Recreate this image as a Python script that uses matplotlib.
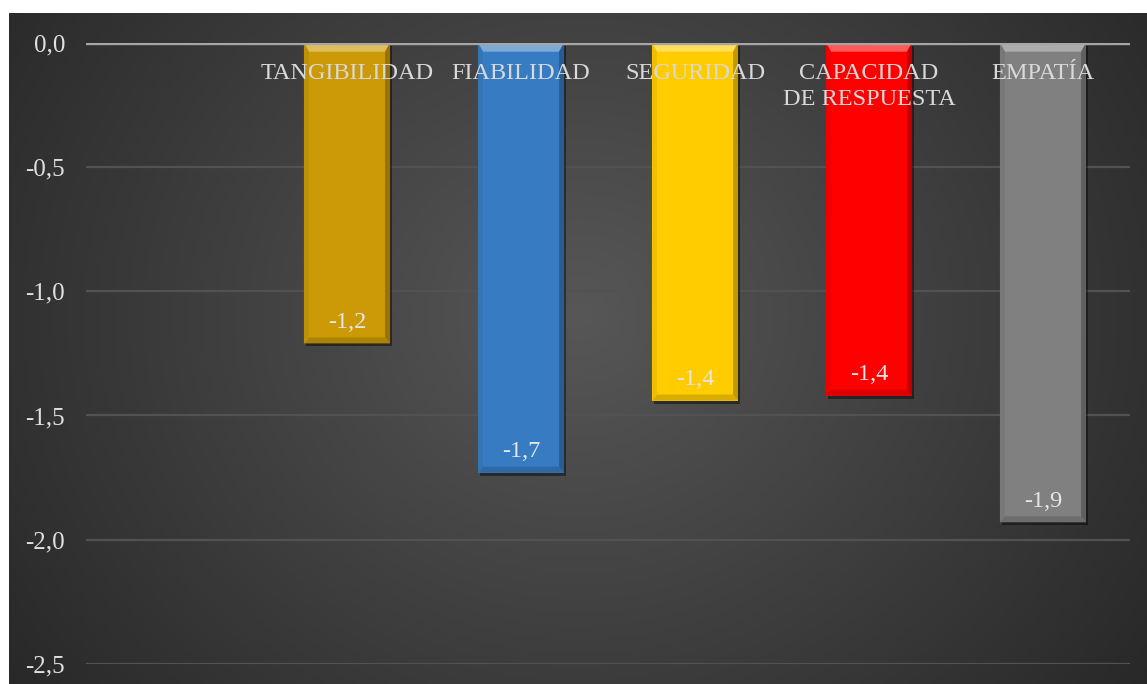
import numpy as np
import matplotlib.pyplot as plt
from matplotlib.patches import Polygon, Rectangle
from matplotlib.colors import to_rgb

plt.rcParams['font.family'] = ['Liberation Serif', 'DejaVu Serif']

# Dimensiones SERVQUAL: brecha (percepción - expectativa)
categorias = ['TANGIBILIDAD', 'FIABILIDAD', 'SEGURIDAD', 'CAPACIDAD\nDE RESPUESTA', 'EMPATÍA']
brechas = [-1.21, -1.73, -1.44, -1.42, -1.93]
colores = ['#CC9A06', '#377CC2', '#FFCC00', '#FF0000', '#808080']
yticks = [0.0, -0.5, -1.0, -1.5, -2.0, -2.5]

W, H, DPI = 1147, 684, 100
fig = plt.figure(figsize=(W / DPI, H / DPI), dpi=DPI, facecolor='white')

# fondo oscuro con degradado radial
bg = fig.add_axes([9 / W, 0, 1 - 9 / W, 1 - 13 / H])
bg.set_axis_off()
gx, gy = np.meshgrid(np.linspace(0, 1, 400), np.linspace(0, 1, 300))
r = np.sqrt(((gx - 0.5) / 0.62) ** 2 + ((gy - 0.45) / 0.95) ** 2)
r = np.clip(r, 0, 1)
c0, c1 = np.array(to_rgb('#575757')), np.array(to_rgb('#282828'))
img = c0[None, None, :] * (1 - r[..., None]) + c1[None, None, :] * r[..., None]
bg.imshow(img, extent=(0, 1, 0, 1), aspect='auto', origin='upper', interpolation='bilinear')
bg.set_xlim(0, 1)
bg.set_ylim(0, 1)

ax = fig.add_axes([86 / W, 1 - 664 / H, 1044 / W, 621.3 / H])
ax.patch.set_alpha(0)
for s in ax.spines.values():
    s.set_visible(False)

x = np.arange(1, len(categorias) + 1)
ancho = 0.495
ax.set_xlim(-0.5, 5.5)
ax.set_ylim(-2.5, 0)

for yv in yticks[1:]:
    ax.axhline(yv, color='#525252', lw=1.6, zorder=0)
ax.axhline(0, color='#a6a6a6', lw=2.4, zorder=5)

px = 6 / 1044   # un píxel en unidades x
py = 2.5 / 621.3  # un píxel en unidades y


def mezcla(c, otro, f):
    c = np.array(to_rgb(c))
    return tuple(c * (1 - f) + np.array(otro) * f)


bars = ax.bar(x, brechas, width=ancho, color=colores, zorder=2)
for b, c in zip(bars, colores):
    x0, x1 = b.get_x(), b.get_x() + b.get_width()
    top, bot = 0.0, b.get_height()
    s, t, tb = 5 * px, 9 * py, 6 * py
    # sombra
    ax.add_patch(Rectangle((x0 + 2 * px, bot - 3 * py), x1 - x0, -bot, color='black',
                           alpha=0.45, zorder=1, lw=0))
    ax.add_patch(Polygon([(x0, top), (x1, top), (x1 - s, top - t), (x0 + s, top - t)],
                         closed=True, color=mezcla(c, (1, 1, 1), 0.35), lw=0, zorder=3))
    ax.add_patch(Polygon([(x0, bot), (x1, bot), (x1 - s, bot + tb), (x0 + s, bot + tb)],
                         closed=True, color=mezcla(c, (0, 0, 0), 0.15), lw=0, zorder=3))
    ax.add_patch(Polygon([(x0, top), (x0 + s, top - t), (x0 + s, bot + tb), (x0, bot)],
                         closed=True, color=mezcla(c, (0, 0, 0), 0.06), lw=0, zorder=3))
    ax.add_patch(Polygon([(x1, top), (x1 - s, top - t), (x1 - s, bot + tb), (x1, bot)],
                         closed=True, color=mezcla(c, (0, 0, 0), 0.25), lw=0, zorder=3))
    ax.annotate(f'{bot:.1f}'.replace('.', ','), (b.get_x() + b.get_width() / 2, bot),
                xytext=(0, 15), textcoords='offset points', ha='center', va='center',
                color='#e6e6e6', fontsize=17.5, zorder=6)

for xi, cat in zip(x, categorias):
    ax.text(xi, -0.082, cat, ha='center', va='top', color='#d9d9d9', fontsize=17.5,
            linespacing=1.3, zorder=6)

ax.set_xticks([])
ax.set_yticks(yticks)
ax.set_yticklabels([f'{v:.1f}'.replace('.', ',') for v in yticks])
ax.tick_params(axis='y', length=0, pad=15, labelsize=18, labelcolor='#e0e0e0')

plt.savefig('out.png', dpi=DPI, facecolor='white')
